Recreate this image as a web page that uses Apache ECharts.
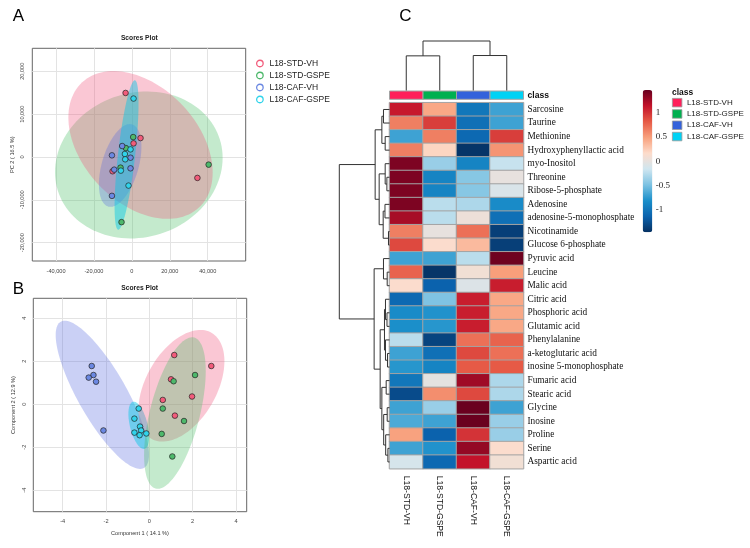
<!DOCTYPE html>
<html><head><meta charset="utf-8">
<script src="https://cdn.jsdelivr.net/npm/echarts@6/dist/echarts.min.js"></script>
<style>html,body{margin:0;padding:0;background:#fff}#c{width:750px;height:548px}</style>
</head><body><div id="c"></div>
<script>
// ---------- data ----------
const classNames = ['L18-STD-VH','L18-STD-GSPE','L18-CAF-VH','L18-CAF-GSPE'];
const pointColors = ['#F25C7B','#4DB86B','#6B88E2','#30D3EA'];
const ellipseColors = ['rgba(240,80,120,0.32)','rgba(70,190,100,0.32)','rgba(90,110,225,0.32)','rgba(0,200,230,0.45)'];
const classColors = ['#FF1F5A','#00B050','#3462DB','#00D2F5'];

// PCA scores (PC1, PC2)
const pcaStdVh   = [[-3300,14950],[4580,4420],[900,3180],[-10160,-3330],[34580,-4880]];
const pcaStdGspe = [[700,4650],[-3160,2090],[-5950,-2480],[-5440,-15200],[40500,-1780]];
const pcaCafVh   = [[-5100,2560],[-10500,390],[-700,-160],[-9300,-2950],[-700,-2640],[-10500,-9070]];
const pcaCafGspe = [[900,13640],[-700,1780],[-3680,700],[-3500,-540],[-5800,-3180],[-1750,-6670]];
// confidence ellipses: centre x, centre y, conjugate semi-axis U (x,y), V (x,y), class
const pcaEllipses = [
  [3680,-1860,44200,1650,0,17070,1],
  [4580,2810,38050,-6440,0,16000,0],
  [-6160,-1980,11210,4370,0,8610,2],
  [-2790,465,6316,12050,0,12600,3]
];
const pcaXTicks = [-40000,-20000,0,20000,40000];
const pcaYTicks = [-20000,-10000,0,10000,20000];

// PLS-DA scores (Component 1, Component 2)
const plsStdVh   = [[1.15,2.29],[2.86,1.78],[1.0,1.16],[1.97,0.36],[0.62,0.2],[1.18,-0.53]];
const plsStdGspe = [[2.11,1.36],[1.12,1.07],[0.62,-0.2],[1.6,-0.78],[0.57,-1.38],[1.06,-2.43]];
const plsCafVh   = [[-2.66,1.78],[-2.58,1.36],[-2.8,1.24],[-2.46,1.05],[-2.12,-1.22]];
const plsCafGspe = [[-0.49,-0.2],[-0.69,-0.67],[-0.43,-1.04],[-0.38,-1.22],[-0.69,-1.32],[-0.45,-1.44],[-0.14,-1.36]];
const plsEllipses = [
  [-2.17,0.44,2.154,-2.78,0,2.04,2],
  [-0.49,-0.98,0.477,-0.533,0,0.963,3],
  [1.48,0.86,1.985,1.141,0,2.333,0],
  [1.18,-0.41,1.423,1.961,0,2.93,1]
];
const plsTicks = [-4,-2,0,2,4];

// heatmap
const rowNames = ['Sarcosine','Taurine','Methionine','Hydroxyphenyllactic acid','myo-Inositol','Threonine',
  'Ribose-5-phosphate','Adenosine','adenosine-5-monophosphate','Nicotinamide','Glucose 6-phosphate',
  'Pyruvic acid','Leucine','Malic acid','Citric acid','Phosphoric acid','Glutamic acid','Phenylalanine',
  'a-ketoglutaric acid','inosine 5-monophosphate','Fumaric acid','Stearic acid','Glycine','Inosine',
  'Proline','Serine','Aspartic acid'];
const heatValues = [
  [1.12,0.45,-1.0,-0.7],[0.65,0.95,-1.05,-0.7],[-0.7,0.65,-1.1,0.95],[0.65,0.2,-1.45,0.55],
  [1.4,-0.38,-0.9,-0.2],[1.4,-0.9,-0.45,0.0],[1.4,-0.9,-0.45,-0.1],[1.4,-0.25,-0.3,-0.85],
  [1.25,-0.25,0.05,-1.05],[0.65,0.0,0.72,-1.38],[0.9,0.15,0.35,-1.38],[-0.7,-0.7,-0.25,1.45],
  [0.78,-1.45,0.08,0.5],[0.15,-1.15,-0.08,1.1],[-1.1,-0.48,1.1,0.45],[-0.85,-0.8,1.1,0.45],
  [-0.82,-0.78,1.1,0.45],[-0.25,-1.35,0.72,0.78],[-0.7,-1.05,0.9,0.72],[-0.78,-0.9,0.82,0.82],
  [-1.0,-0.02,1.28,-0.3],[-1.3,0.58,0.9,-0.3],[-0.7,-0.38,1.47,-0.7],[-0.65,-0.7,1.47,-0.38],
  [0.48,-1.15,1.0,-0.38],[-0.7,-0.8,1.32,0.15],[-0.12,-1.1,1.15,0.08]
];
const scaleMin = -1.48, scaleMax = 1.48;
const scaleTicks = [-1,-0.5,0,0.5,1];
const palette = ['#053061','#0b62ad','#1a8fca','#7cc2e2','#d0e6f0','#fddccb','#f8a07c','#e65a46','#c3122a','#67001f'];
// dendrograms: [left node, right node, height]; leaves are 0..n-1 in display order
const rowMerges = [
  [0,1,1.2],[2,3,0.86],[27,28,1.52],[5,6,0.52],[4,30,0.86],[7,8,0.9],[9,10,0.2],[32,33,1.26],
  [31,34,2.06],[29,35,2.86],[12,13,0.46],[11,37,1.2],[15,16,0.5],[14,39,0.8],[18,19,0.4],
  [17,41,0.8],[40,42,1.0],[20,21,0.66],[22,23,0.46],[25,26,0.32],[24,46,0.76],[45,47,1.16],
  [44,48,1.52],[43,49,1.86],[38,50,3.06],[36,51,10]
];
const colMerges = [[0,1,2.1],[2,3,2.12],[4,5,3]];

// ---------- helpers ----------
function dendroSegments(n, merges) {
  const pos = [], ht = [], segs = [];
  for (let i = 0; i < n; i++) { pos[i] = i; ht[i] = 0; }
  merges.forEach((m, j) => {
    const a = m[0], b = m[1], h = m[2], id = n + j;
    pos[id] = (pos[a] + pos[b]) / 2; ht[id] = h;
    segs.push([[ht[a], pos[a]], [h, pos[a]], [h, pos[b]], [ht[b], pos[b]]]);
  });
  return segs;
}
const rowSegs = dendroSegments(rowNames.length, rowMerges);
const colSegs = dendroSegments(classNames.length, colMerges).map(s => s.map(p => [p[1], p[0]]));

function ellipseRender(params, api) {
  const cx = api.value(0), cy = api.value(1), ux = api.value(2), uy = api.value(3),
        vx = api.value(4), vy = api.value(5), k = api.value(6);
  const pts = [];
  for (let i = 0; i < 120; i++) {
    const t = 2 * Math.PI * i / 120;
    pts.push(api.coord([cx + ux * Math.cos(t) + vx * Math.sin(t), cy + uy * Math.cos(t) + vy * Math.sin(t)]));
  }
  return { type: 'polygon', shape: { points: pts }, style: { fill: ellipseColors[k] } };
}
function dendroSeries(segs, gi) {
  return {
    type: 'custom', xAxisIndex: gi, yAxisIndex: gi, silent: true, z: 3,
    data: segs.map((s, i) => [s[0][0], s[0][1], i]),
    encode: { x: 0, y: 1 },
    renderItem: (params, api) => {
      const seg = segs[params.dataIndex];
      return { type: 'polyline', shape: { points: seg.map(p => api.coord(p)) },
               style: { stroke: '#333', lineWidth: 1, fill: null } };
    }
  };
}
const axisFont = 'Liberation Sans, Arial, sans-serif';
function valAxis(gi, min, max, ticks, extra) {
  return Object.assign({
    type: 'value', gridIndex: gi, min: min, max: max,
    axisLine: { show: false }, axisTick: { show: false, customValues: ticks },
    axisLabel: { customValues: ticks, fontSize: 5.6, color: '#444', fontFamily: axisFont, margin: 7 },
    splitLine: { show: true, lineStyle: { color: '#e3e3e3', width: 1 } },
    nameTextStyle: { fontSize: 5.6, color: '#333', fontFamily: axisFont }
  }, extra || {});
}
function hiddenAxis(gi, type, extra) {
  return Object.assign({ type: type, gridIndex: gi, show: false, splitLine: { show: false } }, extra || {});
}
function scatter(name, data, gi, k) {
  return { type: 'scatter', name: name, data: data, xAxisIndex: gi, yAxisIndex: gi, z: 5,
           symbolSize: 5.6, itemStyle: { color: pointColors[k], borderColor: '#222', borderWidth: 0.7, opacity: 1 } };
}

const series = [
  { type: 'custom', xAxisIndex: 0, yAxisIndex: 0, silent: true, z: 2, data: pcaEllipses, encode: { x: 0, y: 1 }, renderItem: ellipseRender },
  { type: 'custom', xAxisIndex: 1, yAxisIndex: 1, silent: true, z: 2, data: plsEllipses, encode: { x: 0, y: 1 }, renderItem: ellipseRender },
  scatter(classNames[0], pcaStdVh, 0, 0), scatter(classNames[1], pcaStdGspe, 0, 1),
  scatter(classNames[2], pcaCafVh, 0, 2), scatter(classNames[3], pcaCafGspe, 0, 3),
  scatter(classNames[0], plsStdVh, 1, 0), scatter(classNames[1], plsStdGspe, 1, 1),
  scatter(classNames[2], plsCafVh, 1, 2), scatter(classNames[3], plsCafGspe, 1, 3)
];
const heatIndex = series.length;
const heatData = [];
heatValues.forEach((row, r) => row.forEach((v, c) => heatData.push([c, r, v])));
series.push({ type: 'heatmap', xAxisIndex: 2, yAxisIndex: 2, data: heatData, silent: true,
  itemStyle: { borderColor: '#a3a3a3', borderWidth: 1 }, emphasis: { disabled: true } });
series.push({ type: 'custom', xAxisIndex: 3, yAxisIndex: 3, silent: true,
  data: classNames.map((n, i) => [i, 0]), encode: { x: 0, y: 1 },
  renderItem: (params, api) => {
    const c = api.coord([api.value(0), api.value(1)]), s = api.size([1, 1]);
    return { type: 'rect', shape: { x: c[0] - s[0] / 2, y: c[1] - s[1] / 2, width: s[0], height: s[1] },
             style: { fill: classColors[params.dataIndex], stroke: '#a3a3a3', lineWidth: 1 } };
  } });
series.push(dendroSeries(rowSegs, 4));
series.push(dendroSeries(colSegs, 5));
series.push({ type: 'scatter', xAxisIndex: 6, yAxisIndex: 6, data: [], silent: true });

const boxGrid = { show: true, borderColor: '#666', borderWidth: 1, backgroundColor: 'transparent', outerBoundsMode: 'none', containLabel: false };
const plainGrid = { outerBoundsMode: 'none', containLabel: false };

const option = {
  animation: false,
  backgroundColor: '#fff',
  grid: [
    Object.assign({ left: 32.3, top: 48.3, width: 213.4, height: 212.7 }, boxGrid),
    Object.assign({ left: 33.3, top: 298.3, width: 213.4, height: 213.4 }, boxGrid),
    Object.assign({ left: 389.5, top: 102.7, width: 134, height: 366 }, plainGrid),
    Object.assign({ left: 389.5, top: 91, width: 134, height: 8.3 }, plainGrid),
    Object.assign({ left: 339.3, top: 102.7, width: 50.2, height: 366 }, plainGrid),
    Object.assign({ left: 389.5, top: 41, width: 134, height: 49.5 }, plainGrid),
    Object.assign({ left: 642.7, top: 90, width: 9.6, height: 142.3 }, plainGrid)
  ],
  xAxis: [
    valAxis(0, -52500, 60050, pcaXTicks),
    valAxis(1, -5.357, 4.494, plsTicks, { name: 'Component 1 ( 14.1 %)', nameLocation: 'middle', nameGap: 19 }),
    { type: 'category', gridIndex: 2, data: classNames, position: 'bottom',
      axisLine: { show: false }, axisTick: { show: false }, splitLine: { show: false },
      axisLabel: { interval: 0, rotate: -90, fontSize: 8.6, color: '#111', fontFamily: axisFont, margin: 7 } },
    hiddenAxis(3, 'category', { data: classNames }),
    hiddenAxis(4, 'value', { min: 0, max: 10, inverse: true }),
    hiddenAxis(5, 'value', { min: -0.5, max: 3.5 }),
    hiddenAxis(6, 'value', { min: 0, max: 1 })
  ],
  yAxis: [
    valAxis(0, -24270, 25370, pcaYTicks, { name: 'PC 2 ( 16.5 %)', nameLocation: 'middle', nameGap: 17,
      axisLabel: { customValues: pcaYTicks, rotate: 90, fontSize: 5.6, color: '#444', fontFamily: axisFont, margin: 7 } }),
    valAxis(1, -5.0, 4.93, plsTicks, { name: 'Component 2 ( 12.9 %)', nameLocation: 'middle', nameGap: 17,
      axisLabel: { customValues: plsTicks, rotate: 90, fontSize: 5.6, color: '#444', fontFamily: axisFont, margin: 6 } }),
    { type: 'category', gridIndex: 2, data: rowNames, inverse: true, position: 'right',
      axisLine: { show: false }, axisTick: { show: false }, splitLine: { show: false },
      axisLabel: { interval: 0, fontSize: 9.3, color: '#111', fontFamily: 'Liberation Serif, Times New Roman, serif', margin: 4 } },
    { type: 'category', gridIndex: 3, data: ['class'], position: 'right',
      axisLine: { show: false }, axisTick: { show: false }, splitLine: { show: false },
      axisLabel: { fontSize: 8.6, fontWeight: 'bold', color: '#111', fontFamily: axisFont, margin: 4 } },
    hiddenAxis(4, 'value', { min: -0.5, max: 26.5, inverse: true }),
    hiddenAxis(5, 'value', { min: 0, max: 3 }),
    { type: 'value', gridIndex: 6, min: scaleMin, max: scaleMax, position: 'right',
      axisLine: { show: false }, axisTick: { show: false, customValues: scaleTicks }, splitLine: { show: false },
      axisLabel: { customValues: scaleTicks, fontSize: 9, color: '#222', fontFamily: 'Liberation Serif, Times New Roman, serif', margin: 3.5 } }
  ],
  visualMap: [{
    type: 'continuous', seriesIndex: heatIndex, min: scaleMin, max: scaleMax,
    calculable: false, left: 642.7, top: 90, itemWidth: 9.6, itemHeight: 142.3, padding: 0,
    text: null, showLabel: false, inRange: { color: palette }, hoverLink: false
  }],
  legend: [
    { orient: 'vertical', left: 256, top: 59, itemWidth: 9, itemHeight: 6.5, itemGap: 3, icon: 'circle',
      selectedMode: false, padding: 0,
      textStyle: { fontSize: 8.5, color: '#222', fontFamily: axisFont },
      data: classNames.map((n, i) => ({ name: n, itemStyle: { color: '#fff', borderColor: pointColors[i], borderWidth: 1.3 } })) },
    { orient: 'vertical', left: 672, top: 98, itemWidth: 9.5, itemHeight: 8.5, itemGap: 2, icon: 'rect',
      selectedMode: false, padding: 0,
      textStyle: { fontSize: 8, color: '#222', fontFamily: axisFont },
      data: classNames.map((n, i) => ({ name: n, itemStyle: { color: classColors[i], borderColor: '#999', borderWidth: 0.8 } })) }
  ],
  graphic: [
    { type: 'text', x: 18.3, y: 16.7, style: { text: 'A', font: '17px Liberation Sans, Arial, sans-serif', fill: '#000', align: 'center', verticalAlign: 'middle', textAlign: 'center', textVerticalAlign: 'middle' } },
    { type: 'text', x: 18.3, y: 289, style: { text: 'B', font: '17px Liberation Sans, Arial, sans-serif', fill: '#000', align: 'center', verticalAlign: 'middle', textAlign: 'center', textVerticalAlign: 'middle' } },
    { type: 'text', x: 405.5, y: 16.5, style: { text: 'C', font: '17px Liberation Sans, Arial, sans-serif', fill: '#000', align: 'center', verticalAlign: 'middle', textAlign: 'center', textVerticalAlign: 'middle' } },
    { type: 'text', x: 139.3, y: 38.3, style: { text: 'Scores Plot', font: 'bold 6.7px Liberation Sans, Arial, sans-serif', fill: '#222', align: 'center', verticalAlign: 'middle', textAlign: 'center', textVerticalAlign: 'middle' } },
    { type: 'text', x: 139.7, y: 288.3, style: { text: 'Scores Plot', font: 'bold 6.7px Liberation Sans, Arial, sans-serif', fill: '#222', align: 'center', verticalAlign: 'middle', textAlign: 'center', textVerticalAlign: 'middle' } },
    { type: 'text', x: 672, y: 92.7, style: { text: 'class', font: 'bold 8.5px Liberation Sans, Arial, sans-serif', fill: '#111', align: 'left', verticalAlign: 'middle', textAlign: 'left', textVerticalAlign: 'middle' } }
  ],
  series: series
};
const chart = echarts.init(document.getElementById('c'), null, { renderer: 'canvas' });
chart.setOption(option);
</script></body></html>
